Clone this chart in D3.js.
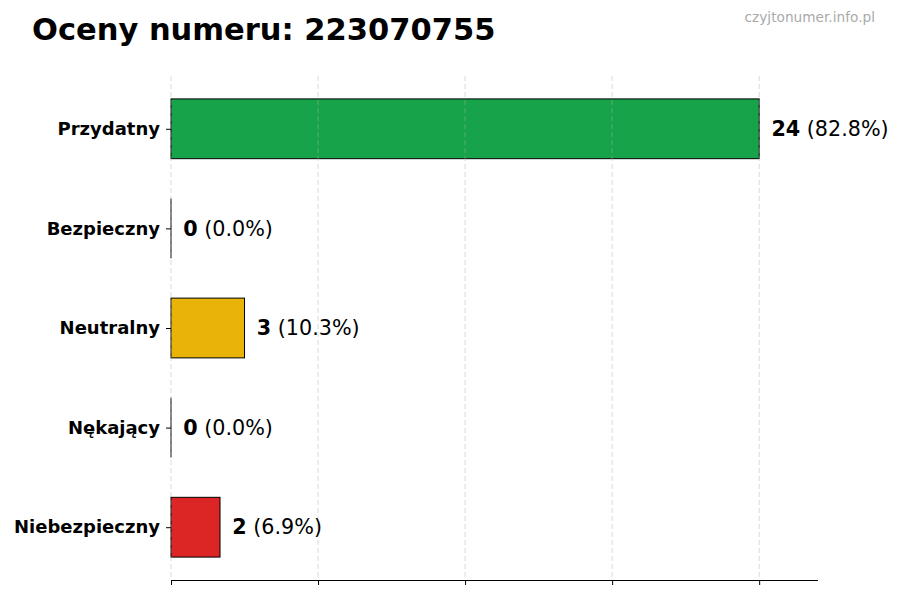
<!DOCTYPE html>
<html><head><meta charset="utf-8">
<script src="https://cdn.jsdelivr.net/npm/d3@7"></script>
<style>body{margin:0;background:#fff}svg{display:block}</style>
</head><body>
<script>
const categories = ["Przydatny", "Bezpieczny", "Neutralny", "Nękający", "Niebezpieczny"];
const counts = [24, 0, 3, 0, 2];
const percents = ["82.8%", "0.0%", "10.3%", "0.0%", "6.9%"];
const colors = ["#17a34a", "#3b82f6", "#eab308", "#f97316", "#dc2626"];
const xTicks = [0, 6, 12, 18, 24];

const W = 900, H = 600;
const m = {left: 171, right: 818, top: 76, bottom: 580};
const svg = d3.select("body").append("svg").attr("width", W).attr("height", H)
  .style("font-family", "'DejaVu Sans', sans-serif");

const x = d3.scaleLinear().domain([0, 26.4]).range([m.left, m.right]);
const y = d3.scaleLinear().domain([-0.53, 4.53]).range([m.top, m.bottom]);
const bh = y(0.3) - y(-0.3);

// bars
svg.append("g").selectAll("rect").data(counts).join("rect")
  .attr("x", x(0)).attr("y", (d, i) => y(i) - bh / 2)
  .attr("width", d => x(d) - x(0)).attr("height", bh)
  .attr("fill", (d, i) => colors[i]).attr("stroke", "#000").attr("stroke-width", 1);
// edges of zero-width bars
svg.append("g").selectAll("line").data(counts.map((d, i) => [d, i]).filter(p => p[0] === 0)).join("line")
  .attr("x1", p => x(p[0])).attr("x2", p => x(p[0]))
  .attr("y1", p => y(p[1]) - bh / 2).attr("y2", p => y(p[1]) + bh / 2)
  .attr("stroke", "#000").attr("stroke-width", 1);

// grid (on top)
svg.append("g").selectAll("line").data(xTicks).join("line")
  .attr("x1", d => x(d)).attr("x2", d => x(d)).attr("y1", m.top).attr("y2", m.bottom)
  .attr("stroke", "#b0b0b0").attr("stroke-opacity", 0.6).attr("stroke-dasharray", "5,3").attr("stroke-width", 0.8);

// x axis
const xa = svg.append("g").attr("transform", `translate(0,${m.bottom})`)
  .call(d3.axisBottom(x).tickValues(xTicks).tickSize(5).tickFormat(""));
xa.select(".domain").attr("stroke", "#000").attr("stroke-width", 1.2).attr("d", `M${m.left},0.5H${m.right}`);
xa.selectAll(".tick line").attr("stroke", "#000").attr("stroke-width", 1);

// y axis
const ya = svg.append("g").attr("transform", `translate(${m.left},0)`)
  .call(d3.axisLeft(y).tickValues(d3.range(categories.length)).tickSize(5).tickPadding(6).tickFormat(i => categories[i]));
ya.select(".domain").remove();
ya.selectAll(".tick line").attr("stroke", "#000");
ya.selectAll(".tick text").attr("font-size", 18).attr("font-weight", "bold").attr("fill", "#000")
  .attr("font-family", "'DejaVu Sans', sans-serif");

// value labels
const lab = svg.append("g").selectAll("text").data(counts).join("text")
  .attr("x", d => x(d + 0.5)).attr("y", (d, i) => y(i)).attr("dy", "0.35em")
  .attr("font-size", 20.7).attr("fill", "#000");
lab.append("tspan").attr("font-weight", "bold").text(d => d);
lab.append("tspan").text((d, i) => " (" + percents[i] + ")");

// title
svg.append("text").attr("x", 32).attr("y", 40).attr("font-size", 30.5).attr("font-weight", "bold")
  .text("Oceny numeru: 223070755");
svg.append("text").attr("x", 875).attr("y", 22).attr("text-anchor", "end").attr("font-size", 13.7)
  .attr("fill", "#aaaaaa").text("czyjtonumer.info.pl");
</script>
</body></html>
